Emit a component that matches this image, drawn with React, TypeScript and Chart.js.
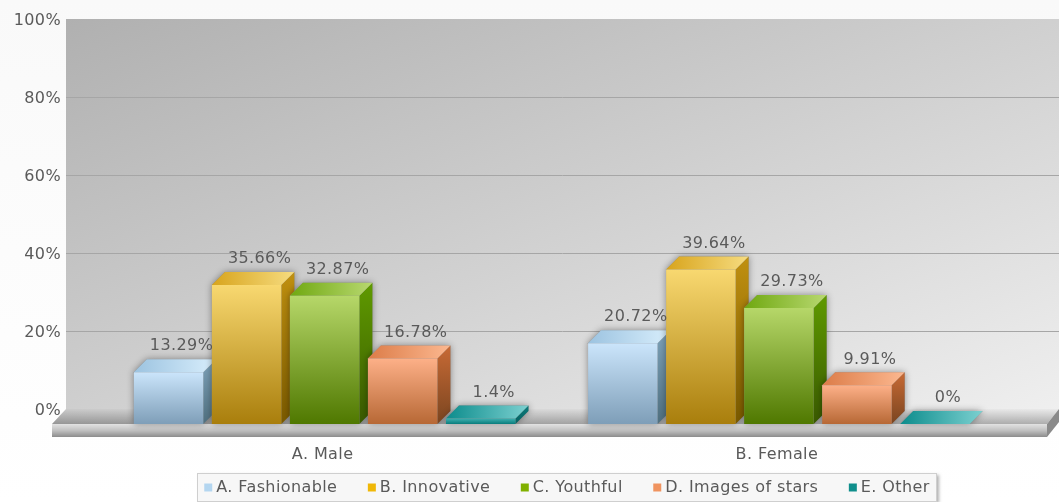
import React, { useEffect, useRef } from "react";
import { Chart, registerables } from "chart.js";

Chart.register(...registerables);

const categories = ["A. Male", "B. Female"];
const seriesNames = ["A. Fashionable", "B. Innovative", "C. Youthful", "D. Images of stars", "E. Other"];
const fashionable = [13.29, 20.72];
const innovative = [35.66, 39.64];
const youthful = [32.87, 29.73];
const imagesOfStars = [16.78, 9.91];
const other = [1.4, 0];
const seriesValues = [fashionable, innovative, youthful, imagesOfStars, other];
const yTicks = [0, 20, 40, 60, 80, 100];

const legendColors = ["#b4d6f0", "#f0b808", "#80b000", "#f09460", "#108f8c"];
// front gradient [top,bottom], side gradient [top,bottom], top face [left,right]
const frontColors = [["#cbe5fb", "#7e9eb8"], ["#f8d870", "#a97e0c"], ["#b6d769", "#4f7800"], ["#fdb088", "#b76835"], ["#3fb0b0", "#087c7c"]];
const sideColors = [["#7fa3bb", "#50707f"], ["#c09010", "#7a5a00"], ["#5f9a00", "#3a5a00"], ["#c86a35", "#7a4520"], ["#0c7c7c", "#066060"]];
const topColors = [["#9cc3e0", "#d8eefc"], ["#d8a41c", "#f6dc80"], ["#6fa810", "#b8d870"], ["#dc7c48", "#fcb890"], ["#0c8c8c", "#7cd0d0"]];

const FONT = { family: "'DejaVu Sans'", size: 16 };
const TEXT = "#5a5a5a";
const SHIFT_X = 2;
const SHIFT_Y = 15;
const DEPTH = 13;

function poly(ctx: CanvasRenderingContext2D, pts: number[][]) {
  ctx.beginPath();
  pts.forEach((p, i) => (i ? ctx.lineTo(p[0], p[1]) : ctx.moveTo(p[0], p[1])));
  ctx.closePath();
}

function grad(ctx: CanvasRenderingContext2D, x0: number, y0: number, x1: number, y1: number, c: string[]) {
  const g = ctx.createLinearGradient(x0, y0, x1, y1);
  c.forEach((col, i) => g.addColorStop(i / (c.length - 1), col));
  return g;
}

const scene = {
  id: "scene",
  beforeLayout(chart: any) {
    chart.ctx.letterSpacing = "0.4px";
  },
  afterLayout(chart: any) {
    const l = chart.legend;
    l.left = 139;
    l.right = 999;
    l.top = 445;
  },
  beforeDraw(chart: any) {
    const ctx: CanvasRenderingContext2D = chart.ctx;
    ctx.letterSpacing = "0.4px";
    const y = chart.scales.y;
    const W = chart.width;
    const H = chart.height;
    const wallTop = y.getPixelForValue(100);
    const wallBase = y.getPixelForValue(0);
    const floorFront = wallBase + SHIFT_Y;
    const wallL = 66;
    const floorL = 52;
    const floorR = 1047;
    ctx.save();
    ctx.fillStyle = grad(ctx, 0, 0, 0, H, ["#f9f9f9", "#ffffff"]);
    ctx.fillRect(0, 0, W, H);
    // wall and floor
    poly(ctx, [[wallL, wallTop], [W, wallTop], [W, wallBase], [floorR, floorFront], [floorL, floorFront], [wallL, wallBase]]);
    ctx.fillStyle = grad(ctx, wallL, wallTop, wallL + 283, wallTop + 695, ["#b0b0b0", "#f0f0f0"]);
    ctx.fill();
    poly(ctx, [[wallL, wallBase], [W, wallBase], [floorR, floorFront], [floorL, floorFront]]);
    ctx.fillStyle = grad(ctx, 0, wallBase, 0, floorFront, ["rgba(0,0,0,0.02)", "rgba(0,0,0,0.28)"]);
    ctx.fill();
    // grid
    ctx.strokeStyle = "#a6a6a6";
    ctx.lineWidth = 1;
    yTicks.slice(1).forEach((t) => {
      const py = Math.round(y.getPixelForValue(t)) + 0.5;
      if (t === 100) return;
      ctx.beginPath();
      ctx.moveTo(wallL, py);
      ctx.lineTo(W, py);
      ctx.stroke();
    });
    // slab
    ctx.fillStyle = grad(ctx, 0, floorFront, 0, floorFront + 13, ["#e2e2e2", "#c0c0c0", "#8c8c8c"]);
    ctx.fillRect(floorL, floorFront, floorR - floorL, 13);
    poly(ctx, [[floorR, floorFront], [W, wallBase], [W, wallBase + 13], [floorR, floorFront + 13]]);
    ctx.fillStyle = "#8a8a8a";
    ctx.fill();
    // legend frame
    ctx.shadowColor = "rgba(0,0,0,0.3)";
    ctx.shadowBlur = 3;
    ctx.shadowOffsetX = 2;
    ctx.shadowOffsetY = 2;
    ctx.fillStyle = "#f7f7f7";
    ctx.fillRect(198, 473, 739, 28);
    ctx.shadowColor = "transparent";
    ctx.strokeStyle = "#cfcfcf";
    ctx.strokeRect(197.5, 473.5, 739, 28);
    ctx.restore();
  },
  beforeDatasetsDraw(chart: any) {
    const ctx: CanvasRenderingContext2D = chart.ctx;
    const cats = chart.data.labels.length;
    for (let c = 0; c < cats; c++) {
      chart.data.datasets.forEach((_: any, d: number) => {
        const el = chart.getDatasetMeta(d).data[c];
        const x0 = el.x - el.width / 2 + SHIFT_X;
        const x1 = el.x + el.width / 2 + SHIFT_X;
        const yt = el.y + SHIFT_Y;
        const yb = el.base + SHIFT_Y;
        ctx.save();
        const sil = [[x0, yt], [x0 + DEPTH, yt - DEPTH], [x1 + DEPTH, yt - DEPTH], [x1 + DEPTH, yb - DEPTH], [x1, yb], [x0, yb]];
        ctx.shadowColor = "rgba(0,0,0,0.4)";
        ctx.shadowBlur = 7;
        poly(ctx, sil);
        ctx.fillStyle = "#888";
        ctx.fill();
        ctx.shadowColor = "transparent";
        if (yb > yt) {
          poly(ctx, [[x1, yt], [x1 + DEPTH, yt - DEPTH], [x1 + DEPTH, yb - DEPTH], [x1, yb]]);
          ctx.fillStyle = grad(ctx, 0, yt - DEPTH, 0, yb, sideColors[d]);
          ctx.fill();
        }
        poly(ctx, [[x0, yt], [x0 + DEPTH, yt - DEPTH], [x1 + DEPTH, yt - DEPTH], [x1, yt]]);
        ctx.fillStyle = grad(ctx, x0, 0, x1 + DEPTH, 0, topColors[d]);
        ctx.fill();
        ctx.restore();
      });
    }
  },
  beforeDatasetDraw(chart: any) {
    chart.ctx.save();
    chart.ctx.translate(SHIFT_X, SHIFT_Y);
  },
  afterDatasetDraw(chart: any) {
    chart.ctx.restore();
  },
  afterDatasetsDraw(chart: any) {
    const ctx: CanvasRenderingContext2D = chart.ctx;
    ctx.save();
    ctx.font = `${FONT.size}px ${FONT.family}`;
    ctx.fillStyle = TEXT;
    ctx.textAlign = "center";
    ctx.textBaseline = "middle";
    chart.data.datasets.forEach((ds: any, d: number) => {
      chart.getDatasetMeta(d).data.forEach((el: any, i: number) => {
        ctx.fillText(`${ds.data[i]}%`, el.x + SHIFT_X + DEPTH, el.y + SHIFT_Y - DEPTH - 13);
      });
    });
    ctx.restore();
  },
};

export default function App() {
  const ref = useRef<HTMLCanvasElement>(null);
  useEffect(() => {
    const chart = new Chart(ref.current as HTMLCanvasElement, {
      type: "bar",
      data: {
        labels: categories,
        datasets: seriesNames.map((label, d) => ({
          label,
          data: seriesValues[d],
          clip: false,
          borderWidth: 0,
          categoryPercentage: 0.859,
          barPercentage: 0.89,
          backgroundColor: (c: any) => {
            const area = c.chart.chartArea;
            if (!area || c.parsed === undefined) return frontColors[d][0];
            const y = c.chart.scales.y;
            const top = y.getPixelForValue(c.parsed.y);
            const base = y.getPixelForValue(0);
            return grad(c.chart.ctx, 0, top, 0, Math.max(base, top + 1), frontColors[d]);
          },
        })),
      },
      options: {
        responsive: false,
        animation: false,
        events: [],
        layout: { padding: { left: 0, right: 55, top: 19, bottom: 0 } },
        scales: {
          x: {
            offset: true,
            grid: { display: false, drawTicks: false },
            border: { display: false },
            afterFit: (s: any) => { s.height = 53; },
            ticks: { color: TEXT, font: FONT, padding: 36 },
          },
          y: {
            min: 0,
            max: 100,
            grid: { display: false, drawTicks: false },
            border: { display: false },
            afterFit: (s: any) => { s.width = 95.5; s.paddingTop = 0; s.paddingBottom = 0; },
            ticks: {
              color: TEXT,
              font: FONT,
              padding: 34.5,
              stepSize: 20,
              labelOffset: 2,
              callback: (v: any) => `${v}%`,
            },
          },
        },
        plugins: {
          tooltip: { enabled: false },
          legend: {
            position: "bottom",
            maxHeight: 40,
            labels: {
              color: TEXT,
              font: FONT,
              usePointStyle: true,
              pointStyle: "rect",
              boxWidth: 0.01,
              boxHeight: 8,
              padding: 34.5,
              generateLabels: () =>
                seriesNames.map((text, i) => ({
                  text,
                  fillStyle: legendColors[i],
                  strokeStyle: legendColors[i],
                  lineWidth: 0,
                  pointStyle: "rect",
                  datasetIndex: i,
                  fontColor: TEXT,
                })),
            },
          },
        },
      },
      plugins: [scene],
    } as any);
    return () => chart.destroy();
  }, []);
  return (
    <div style={{ position: "absolute", left: 0, top: 0, width: 1059, height: 502 }}>
      <canvas ref={ref} width={1059} height={502} style={{ display: "block" }} />
    </div>
  );
}
